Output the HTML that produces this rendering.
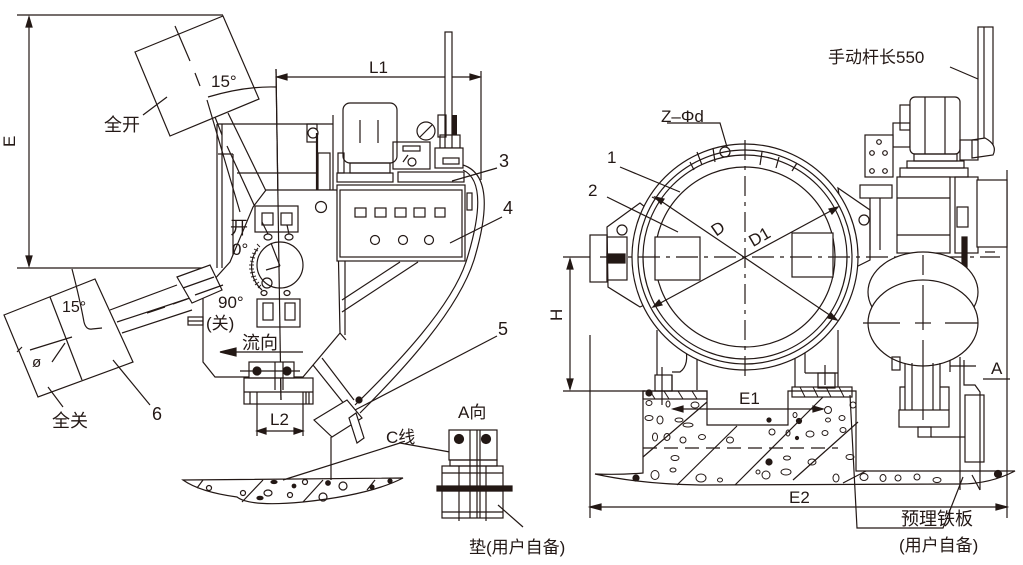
<!DOCTYPE html>
<html><head><meta charset="utf-8"><style>
html,body{margin:0;padding:0;background:#fff;}
svg{display:block;}
text{font-family:"Liberation Sans","Noto Sans CJK SC",sans-serif;fill:#231815;}
</style></head><body>
<svg width="1023" height="565" viewBox="0 0 1023 565" xmlns="http://www.w3.org/2000/svg">
<g stroke="#231815" stroke-width="1.2" fill="none">
<!-- ===== LEFT FIGURE ===== -->
<line x1="17" y1="15" x2="223" y2="15"/>
<line x1="17" y1="268" x2="205" y2="268"/>
<line x1="29" y1="17" x2="29" y2="266"/>
<path d="M29,17 l-3,10 h6z M29,266 l-3,-10 h6z" fill="#231815"/>
<polygon points="135,52 223,16 259,99 170,136" fill="#fff"/>
<line x1="175" y1="26" x2="190" y2="61"/>
<line x1="195" y1="73" x2="200" y2="86"/>
<line x1="207" y1="100" x2="240" y2="212"/>
<line x1="228" y1="113" x2="266" y2="191"/>
<line x1="215" y1="117" x2="222" y2="135"/>
<line x1="227" y1="146" x2="255" y2="207"/>
<line x1="143" y1="115" x2="167" y2="97"/>
<path d="M208,97 Q245,86 276,87"/>
<line x1="276" y1="69" x2="281" y2="400"/>
<line x1="277" y1="77" x2="480" y2="77"/>
<path d="M277,77 l10,-3 v6z M480,77 l-10,-3 v6z" fill="#231815"/>
<line x1="481" y1="71" x2="481" y2="180"/>
<line x1="217" y1="124" x2="333" y2="124"/>
<line x1="217" y1="124" x2="217" y2="268"/>
<line x1="222" y1="124" x2="222" y2="268"/>
<line x1="218" y1="154" x2="233" y2="154"/>
<line x1="233" y1="154" x2="233" y2="267"/>
<line x1="237" y1="173" x2="317" y2="173"/>
<line x1="333" y1="115" x2="333" y2="190"/>
<rect x="307" y="124" width="10" height="18"/>
<circle cx="313" cy="133" r="5" fill="#fff"/>
<line x1="317" y1="133" x2="317" y2="190" stroke-width="2.2"/>
<rect x="318" y="153" width="12" height="37"/>
<polygon points="266,190 337,190 340,333 303,377 215,377 203,362 203,292 230,262 253,207" fill="#fff"/>
<line x1="276" y1="69" x2="281" y2="400"/>
<rect x="255" y="206" width="43" height="26"/>
<rect x="262" y="213" width="11" height="12"/>
<rect x="281" y="213" width="11" height="12"/>
<line x1="262" y1="222" x2="268" y2="234"/>
<line x1="287" y1="225" x2="289" y2="234"/>
<ellipse cx="268" cy="237" rx="4" ry="3"/>
<ellipse cx="289" cy="237" rx="4" ry="3"/>
<circle cx="321" cy="207" r="5.5"/>
<circle cx="280" cy="265" r="23"/>
<line x1="271" y1="243" x2="280" y2="266"/>
<line x1="266" y1="270" x2="280" y2="266"/>
<path d="M258,248 A31,31 0 0 0 262,290" />
<g stroke-width="0.9">
<line x1="254" y1="249" x2="258" y2="251"/><line x1="252" y1="253" x2="256" y2="254"/><line x1="250" y1="257" x2="255" y2="258"/><line x1="250" y1="261" x2="254" y2="262"/><line x1="249" y1="265" x2="254" y2="265"/><line x1="249" y1="269" x2="254" y2="269"/><line x1="250" y1="273" x2="255" y2="272"/><line x1="251" y1="277" x2="256" y2="276"/><line x1="253" y1="281" x2="257" y2="279"/><line x1="255" y1="285" x2="259" y2="282"/><line x1="258" y1="288" x2="261" y2="285"/><line x1="257" y1="244" x2="260" y2="247"/>
</g>
<circle cx="267" cy="283" r="5"/>
<ellipse cx="264" cy="293" rx="3" ry="2.5"/>
<ellipse cx="287" cy="293" rx="3" ry="2.5"/>
<rect x="257" y="299" width="43" height="28"/>
<rect x="263" y="303" width="10" height="17"/>
<rect x="285" y="303" width="10" height="17"/>
<line x1="232" y1="352" x2="303" y2="352"/>
<path d="M220,352 l16,-4 v8z" fill="#231815"/>
<rect x="249" y="362" width="45" height="16" fill="#fff"/>
<line x1="240" y1="371" x2="300" y2="371"/>
<circle cx="257" cy="371" r="4" fill="#231815"/>
<circle cx="287" cy="371" r="4" fill="#231815"/>
<line x1="275" y1="362" x2="275" y2="390"/>
<line x1="283" y1="362" x2="283" y2="390"/>
<rect x="244" y="378" width="69" height="26"/>
<line x1="244" y1="392" x2="313" y2="392"/>
<line x1="250" y1="392" x2="250" y2="404"/><line x1="306" y1="392" x2="306" y2="404"/>
<line x1="309" y1="392" x2="309" y2="404"/>
<line x1="257" y1="392" x2="257" y2="436"/>
<line x1="303" y1="392" x2="303" y2="436"/>
<line x1="257" y1="431" x2="303" y2="431"/>
<path d="M257,431 l9,-3 v6z M303,431 l-9,-3 v6z" fill="#231815"/>
<line x1="345" y1="190" x2="345" y2="335"/>
<line x1="340" y1="333" x2="346" y2="340"/>
<line x1="342" y1="300" x2="400" y2="262"/>
<line x1="342" y1="312" x2="418" y2="262"/>
<line x1="313" y1="365" x2="345" y2="405"/>
<line x1="322" y1="358" x2="354" y2="400"/>
<polygon points="314,420 347,400 362,418 332,437" fill="#fff"/>
<polygon points="349,418 356,413 364,438 357,443" fill="#fff"/>
<circle cx="359" cy="400" r="3" fill="#231815"/>
<line x1="331" y1="437" x2="331" y2="480"/>
<line x1="110" y1="310" x2="177" y2="285"/>
<line x1="117" y1="322" x2="190" y2="298"/>
<line x1="122" y1="333" x2="192" y2="310"/>
<polygon points="177,277 210,265 222,290 192,303" fill="#fff"/>
<line x1="183" y1="288" x2="214" y2="277"/>
<rect x="188" y="317" width="15" height="8"/>
<line x1="188" y1="321" x2="203" y2="321"/>
<polygon points="4,315 95,279 133,362 38,397" fill="#fff"/>
<line x1="50" y1="297" x2="82" y2="380"/>
<line x1="30" y1="350" x2="72" y2="337"/>
<line x1="17" y1="352" x2="22" y2="347"/>
<line x1="52" y1="362" x2="65" y2="343"/>
<line x1="147" y1="313" x2="165" y2="307"/>
<line x1="173" y1="304" x2="187" y2="299"/>
<line x1="195" y1="295" x2="223" y2="285"/>
<path d="M72,269 Q80,300 84,322 Q86,330 92,329 L102,328"/>
<line x1="48" y1="387" x2="63" y2="407"/>
<line x1="113" y1="360" x2="150" y2="405"/>
<path d="M183,480 L403,478 Q370,495 303,502 Q250,507 237,497 Q200,492 183,480Z"/>
<line x1="197" y1="488" x2="203" y2="480"/>
<line x1="242" y1="502" x2="263" y2="480"/>
<line x1="303" y1="502" x2="323" y2="480"/>
<line x1="367" y1="490" x2="375" y2="480"/>
<circle cx="209" cy="488" r="2.5"/>
<circle cx="243" cy="493" r="2.5"/>
<ellipse cx="268" cy="493" rx="4" ry="3"/>
<circle cx="290" cy="495" r="2.5"/>
<circle cx="305" cy="482" r="2.5"/>
<circle cx="343" cy="486" r="4"/>
<circle cx="323" cy="497" r="4"/>
<ellipse cx="274" cy="482" rx="3" ry="1.5" fill="#231815"/>
<ellipse cx="260" cy="498" rx="3" ry="1.7" fill="#231815"/>
<circle cx="294" cy="486" r="1.8" fill="#231815"/>
<circle cx="328" cy="483" r="2.3" fill="#231815"/>
<circle cx="372" cy="487" r="2" fill="#231815"/>
<circle cx="390" cy="481" r="2" fill="#231815"/>
<line x1="283" y1="480" x2="400" y2="443"/>
<line x1="400" y1="443" x2="483" y2="458"/>
<rect x="343" y="103" width="54" height="60" rx="7" fill="#fff"/>
<line x1="360" y1="120" x2="360" y2="143"/>
<line x1="378" y1="120" x2="378" y2="143"/>
<rect x="350" y="163" width="40" height="10"/>
<rect x="337" y="173" width="56" height="9"/>
<rect x="338" y="153" width="6" height="20"/>
<circle cx="426" cy="131" r="9"/>
<line x1="420" y1="137" x2="432" y2="125"/>
<rect x="393" y="142" width="37" height="27"/>
<rect x="403" y="146" width="17" height="5"/>
<circle cx="412" cy="162" r="4"/>
<line x1="403" y1="162" x2="408" y2="155"/>
<rect x="398" y="172" width="66" height="10"/>
<rect x="445" y="32" width="7" height="118" fill="#fff"/>
<rect x="452" y="115" width="5" height="20" fill="#231815" stroke="none"/>
<rect x="438" y="115" width="8" height="22"/>
<rect x="440" y="135" width="20" height="13"/>
<rect x="435" y="148" width="28" height="20" fill="#fff"/>
<rect x="443" y="158" width="16" height="6"/>
<rect x="337" y="185" width="128" height="76" fill="#fff"/>
<rect x="340" y="190" width="122" height="67"/>
<rect x="355" y="208" width="11" height="9"/>
<rect x="375" y="208" width="11" height="9"/>
<rect x="395" y="208" width="11" height="9"/>
<rect x="414" y="208" width="11" height="9"/>
<rect x="435" y="208" width="10" height="9"/>
<circle cx="375" cy="240" r="4.5"/>
<circle cx="403" cy="240" r="4.5"/>
<circle cx="429" cy="240" r="4.5"/>
<rect x="467" y="193" width="5" height="17"/>
<line x1="450" y1="243" x2="502" y2="217"/>
<line x1="452" y1="181" x2="497" y2="168"/>
<path d="M463,165 C485,172 492,200 474,260 C458,310 405,368 360,413"/>
<path d="M463,170 C480,178 484,205 466,262 C451,307 398,363 355,405"/>
<rect x="449" y="430" width="48" height="30" fill="#fff"/>
<circle cx="459" cy="439" r="4.5" fill="#231815"/>
<circle cx="486" cy="439" r="4.5" fill="#231815"/>
<rect x="450" y="460" width="47" height="6"/>
<rect x="442" y="466" width="61" height="21"/>
<rect x="437" y="486" width="75" height="5" fill="#231815"/>
<rect x="442" y="491" width="61" height="27"/>
<line x1="442" y1="512" x2="503" y2="512"/>
<line x1="442" y1="473" x2="503" y2="473"/>
<line x1="459" y1="466" x2="459" y2="521"/>
<line x1="486" y1="466" x2="486" y2="521"/>
<line x1="470" y1="430" x2="470" y2="518"/>
<line x1="477" y1="430" x2="477" y2="518"/>
<line x1="480" y1="430" x2="480" y2="518"/>
<line x1="498" y1="505" x2="523" y2="527"/>

<!-- ===== RIGHT FIGURE ===== -->
<line x1="590" y1="335" x2="590" y2="518"/>
<line x1="1007" y1="170" x2="1007" y2="518"/>
<line x1="590" y1="507" x2="1007" y2="507"/>
<path d="M590,507 l11,-3 v6z M1007,507 l-11,-3 v6z" fill="#231815"/>
<line x1="563" y1="257" x2="600" y2="257"/>
<line x1="563" y1="391" x2="645" y2="391"/>
<line x1="570" y1="259" x2="570" y2="389"/>
<path d="M570,259 l-3,10 h6z M570,389 l-3,-10 h6z" fill="#231815"/>
<polygon points="607,227 640,203 655,215 655,300 640,307 608,287" fill="#fff"/>
<rect x="590" y="235" width="17" height="47" fill="#fff"/>
<rect x="607" y="237" width="20" height="43"/>
<rect x="607" y="254" width="18" height="9" fill="#231815"/>
<circle cx="622" cy="230" r="5"/>
<polygon points="838,188 870,210 870,260 850,270" fill="#fff"/>
<circle cx="864" cy="220" r="5"/>
<line x1="657" y1="330" x2="657" y2="375"/>
<line x1="697" y1="340" x2="697" y2="390"/>
<path d="M685,345 Q690,365 680,372 L672,372"/>
<line x1="795" y1="340" x2="795" y2="387"/>
<line x1="805" y1="340" x2="805" y2="373"/>
<line x1="805" y1="373" x2="838" y2="373"/>
<line x1="838" y1="330" x2="838" y2="387"/>
<rect x="655" y="375" width="17" height="16"/>
<line x1="662" y1="367" x2="662" y2="405"/>
<line x1="672" y1="375" x2="672" y2="391"/>
<rect x="818" y="373" width="17" height="15"/>
<line x1="825" y1="365" x2="825" y2="385"/>
<circle cx="745" cy="257" r="113" fill="#fff"/>
<circle cx="745" cy="257" r="107"/>
<circle cx="745" cy="257" r="102"/>
<circle cx="745" cy="257" r="90"/>
<circle cx="725" cy="152" r="5"/>
<line x1="713" y1="148" x2="715" y2="162"/>
<line x1="697" y1="152" x2="702" y2="165"/>
<line x1="690" y1="162" x2="694" y2="170"/>
<line x1="762" y1="152" x2="760" y2="165"/>
<line x1="779" y1="157" x2="776" y2="168"/>
<line x1="797" y1="163" x2="792" y2="171"/>
<line x1="652" y1="197" x2="662" y2="202"/>
<rect x="655" y="237" width="45" height="43" fill="#fff"/>
<rect x="792" y="233" width="41" height="44" fill="#fff"/>
<line x1="600" y1="257" x2="1000" y2="257" stroke-dasharray="22,6,4,6"/>
<line x1="745" y1="140" x2="745" y2="382" stroke-dasharray="20,6,4,6"/>
<line x1="655" y1="197" x2="837" y2="320"/>
<line x1="653" y1="307" x2="838" y2="207"/>
<path d="M655,197 l9,2 l-3,5z M837,320 l-9,-2 l3,-5z M653,307 l6,-7 l3,5z M838,207 l-6,7 l-3,-5z" fill="#231815"/>
<polyline points="667,123 720,123 727,147"/>
<line x1="620" y1="167" x2="680" y2="192"/>
<line x1="607" y1="197" x2="678" y2="232"/>
<path d="M595,474 Q620,475 643,473 L643,391 L707,391 L707,425 L788,425 L788,391 L856,391 L856,471 L1015,471 Q990,484 960,484 L700,485 Q640,484 595,474Z"/>
<rect x="643" y="391" width="64" height="8"/>
<rect x="792" y="387" width="60" height="10"/>
<g stroke-width="1">
<line x1="650" y1="391" x2="655" y2="399"/><line x1="664" y1="391" x2="669" y2="399"/><line x1="678" y1="391" x2="683" y2="399"/><line x1="692" y1="391" x2="697" y2="399"/>
<line x1="800" y1="387" x2="805" y2="397"/><line x1="813" y1="387" x2="818" y2="397"/><line x1="826" y1="387" x2="831" y2="397"/><line x1="839" y1="387" x2="844" y2="397"/>
</g>
<line x1="643" y1="457" x2="707" y2="402"/>
<line x1="677" y1="485" x2="737" y2="426"/>
<line x1="735" y1="485" x2="823" y2="397"/>
<line x1="793" y1="480" x2="858" y2="422"/>
<line x1="843" y1="483" x2="866" y2="471"/>
<line x1="643" y1="448" x2="838" y2="448" stroke-dasharray="14,7"/>
<line x1="673" y1="409" x2="823" y2="409"/>
<path d="M673,409 l10,-3 v6z M823,409 l-10,-3 v6z" fill="#231815"/>
<g stroke-width="1">
<ellipse cx="649" cy="403" rx="3" ry="2.5"/><ellipse cx="668" cy="404" rx="2" ry="3"/><ellipse cx="695" cy="405" rx="4" ry="3"/>
<ellipse cx="649" cy="418" rx="4" ry="2.5"/><ellipse cx="660" cy="420" rx="3" ry="4"/><ellipse cx="679" cy="420" rx="4" ry="2"/><ellipse cx="688" cy="425" rx="5" ry="2"/>
<ellipse cx="655" cy="437" rx="2.5" ry="4"/><ellipse cx="667" cy="437" rx="3" ry="3.5"/><ellipse cx="683" cy="440" rx="3" ry="3"/><ellipse cx="702" cy="437" rx="3.5" ry="2.5"/><ellipse cx="730" cy="440" rx="3.5" ry="3"/>
<ellipse cx="675" cy="458" rx="4" ry="2.5"/><ellipse cx="673" cy="470" rx="3" ry="2"/><ellipse cx="655" cy="475" rx="4" ry="4.5"/><ellipse cx="701" cy="478" rx="5" ry="4"/><ellipse cx="720" cy="480" rx="2.5" ry="2"/>
<ellipse cx="772" cy="432" rx="3" ry="3"/><ellipse cx="788" cy="433" rx="2" ry="3"/><ellipse cx="810" cy="434" rx="4" ry="3"/><ellipse cx="825" cy="433" rx="3" ry="2.5"/>
<ellipse cx="828" cy="410" rx="3.5" ry="3.5"/><ellipse cx="795" cy="415" rx="2" ry="2.5"/><ellipse cx="828" cy="420" rx="2.5" ry="2"/><ellipse cx="842" cy="418" rx="3" ry="2.5"/>
<ellipse cx="787" cy="458" rx="3.5" ry="2"/><ellipse cx="812" cy="462" rx="4" ry="3"/><ellipse cx="786" cy="472" rx="5" ry="3"/><ellipse cx="766" cy="475" rx="4" ry="4"/><ellipse cx="758" cy="472" rx="2" ry="2"/><ellipse cx="836" cy="478" rx="3" ry="4"/>
<ellipse cx="853" cy="405" rx="3" ry="3"/><ellipse cx="843" cy="430" rx="3" ry="2.5"/><ellipse cx="850" cy="457" rx="4" ry="2.5"/>
<ellipse cx="864" cy="477" rx="4" ry="3.5"/><ellipse cx="883" cy="478" rx="3" ry="3.5"/><ellipse cx="898" cy="478" rx="3" ry="3"/><ellipse cx="917" cy="477" rx="3" ry="3"/><ellipse cx="937" cy="480" rx="4" ry="2.5"/>
</g>
<circle cx="649" cy="393" r="3" fill="#231815"/>
<circle cx="636" cy="478" r="3" fill="#231815"/>
<circle cx="769" cy="420" r="2" fill="#231815"/>
<circle cx="799" cy="421" r="2.5" fill="#231815"/>
<circle cx="797" cy="438" r="1.5" fill="#231815"/>
<circle cx="769" cy="462" r="3" fill="#231815"/>
<circle cx="998" cy="474" r="3.5" fill="#231815"/>
<polyline points="850,395 857,528 943,528 963,477"/>
<rect x="978" y="27" width="15" height="118" fill="#fff"/>
<line x1="984" y1="27" x2="984" y2="145"/>
<path d="M972,140 L985,138 Q998,145 993,155 L972,158Z" fill="#fff"/>
<line x1="950" y1="67" x2="978" y2="79"/>
<rect x="900" y="105" width="10" height="25"/>
<rect x="893" y="123" width="17" height="24"/>
<rect x="910" y="97" width="50" height="57" rx="5" fill="#fff"/>
<line x1="925" y1="97" x2="925" y2="154"/>
<line x1="945" y1="97" x2="945" y2="154"/>
<rect x="914" y="154" width="43" height="7"/>
<rect x="907" y="161" width="57" height="7"/>
<rect x="900" y="168" width="68" height="9"/>
<rect x="960" y="140" width="18" height="20"/>
<rect x="865" y="135" width="28" height="42" fill="#fff"/>
<circle cx="879" cy="142" r="2.3"/><circle cx="872" cy="153" r="2.3"/><circle cx="885" cy="153" r="2.3"/><circle cx="872" cy="171" r="2.3"/><circle cx="885" cy="171" r="2.3"/>
<rect x="860" y="185" width="32" height="13"/>
<line x1="870" y1="198" x2="870" y2="250"/>
<line x1="880" y1="198" x2="880" y2="250"/>
<rect x="897" y="177" width="53" height="76" fill="#fff"/>
<line x1="897" y1="198" x2="950" y2="198"/>
<line x1="897" y1="235" x2="950" y2="235"/>
<rect x="955" y="177" width="23" height="76"/>
<rect x="977" y="180" width="30" height="67" fill="#fff"/>
<rect x="957" y="207" width="11" height="20"/>
<rect x="962" y="237" width="5" height="30" fill="#231815"/>
<line x1="985" y1="252" x2="995" y2="252"/>
<ellipse cx="923" cy="292" rx="55" ry="40" fill="#fff"/>
<ellipse cx="923" cy="323" rx="55" ry="43" fill="#fff"/>
<line x1="863" y1="323" x2="900" y2="323"/>
<line x1="915" y1="323" x2="931" y2="323"/>
<line x1="945" y1="323" x2="978" y2="323"/>
<line x1="923" y1="255" x2="923" y2="275"/>
<line x1="923" y1="285" x2="923" y2="330"/>
<line x1="923" y1="340" x2="923" y2="420"/>
<rect x="892" y="357" width="8" height="13"/>
<line x1="905" y1="363" x2="905" y2="410"/>
<line x1="912" y1="363" x2="912" y2="410"/>
<line x1="933" y1="363" x2="933" y2="410"/>
<line x1="940" y1="363" x2="940" y2="410"/>
<polyline points="900,410 900,387 905,387"/>
<polyline points="949,410 949,387 940,387"/>
<rect x="899" y="410" width="50" height="17"/>
<rect x="918" y="427" width="13" height="10"/>
<line x1="931" y1="437" x2="965" y2="437"/>
<line x1="950" y1="360" x2="950" y2="372"/>
<line x1="950" y1="366" x2="976" y2="366"/>
<line x1="960" y1="357" x2="960" y2="490"/>
<polyline points="964,360 964,385 975,385 980,392 980,490"/>
<rect x="965" y="395" width="19" height="67"/>
<line x1="972" y1="475" x2="980" y2="490"/>
<line x1="983" y1="379" x2="1010" y2="379"/>
<line x1="497" y1="336" x2="355" y2="410"/>
</g>

<g>
<text x="8" y="140" transform="rotate(-90 15 140)" font-size="17">E</text>
<text x="211" y="87" font-size="17">15°</text>
<text x="104" y="131" font-size="18">全开</text>
<text x="369" y="73" font-size="17">L1</text>
<text x="230" y="234" font-size="18">开</text>
<text x="232" y="255" font-size="17">0°</text>
<text x="218" y="308" font-size="17">90°</text>
<text x="206" y="329" font-size="17">(关)</text>
<text x="242" y="349" font-size="18">流向</text>
<text x="62" y="312" font-size="16">15°</text>
<text x="32" y="367" font-size="15">ø</text>
<text x="52" y="427" font-size="18">全关</text>
<text x="152" y="420" font-size="18">6</text>
<text x="270" y="425" font-size="17">L2</text>
<text x="499" y="167" font-size="18">3</text>
<text x="503" y="214" font-size="18">4</text>
<text x="498" y="335" font-size="18">5</text>
<text x="458" y="418" font-size="17">A向</text>
<text x="386" y="443" font-size="17">C线</text>
<text x="469" y="553" font-size="17">垫(用户自备)</text>
<text x="828" y="63" font-size="17">手动杆长550</text>
<text x="661" y="122" font-size="17">Z–Φd</text>
<text x="607" y="163" font-size="17">1</text>
<text x="588" y="196" font-size="17">2</text>
<text x="711" y="234" font-size="17" transform="rotate(-35 718 227)">D</text>
<text x="747" y="243" font-size="17" transform="rotate(-30 758 234)">D1</text>
<text x="565" y="324" font-size="17" transform="rotate(-90 562 324)">H</text>
<text x="739" y="404" font-size="17">E1</text>
<text x="789" y="503" font-size="17">E2</text>
<text x="991" y="374" font-size="17">A</text>
<text x="901" y="525" font-size="18">预理铁板</text>
<text x="899" y="551" font-size="17">(用户自备)</text>
</g>
</svg>
</body></html>
